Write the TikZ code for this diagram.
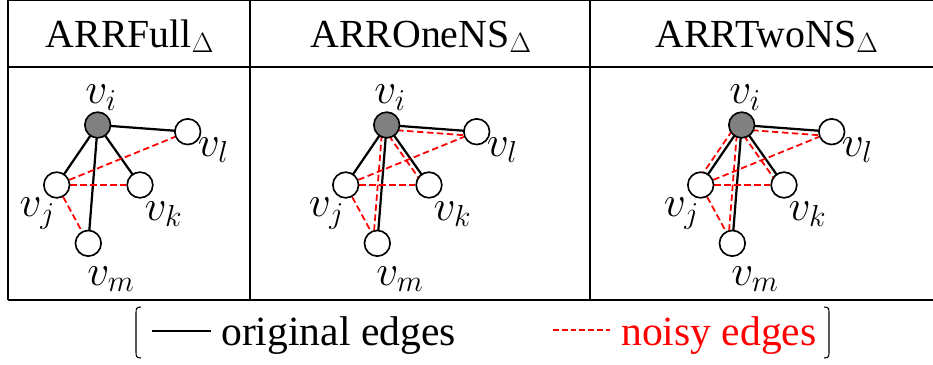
\RequirePackage{fix-cm}
\documentclass[tikz,border=0pt]{standalone}
\usepackage{fontspec}
\setmainfont{Liberation Serif}
\usetikzlibrary{backgrounds}

\begin{document}
\begin{tikzpicture}[x=0.03cm,y=-0.03cm,
  vtx/.style={circle,draw,line width=1.4pt,fill=white,minimum size=0.77cm,inner sep=0pt},
  hub/.style={vtx,fill=black!50},
  orig/.style={line width=1.9pt},
  noisy/.style={red,line width=1.5pt,dash pattern=on 5.5pt off 3pt},
  lbl/.style={font=\fontsize{37}{40}\selectfont,inner sep=0pt},
  txt/.style={font=\fontsize{35.5}{40}\selectfont,inner sep=0pt},
  hdr/.style={font=\fontsize{34}{40}\selectfont,inner sep=0pt,anchor=base},
  rule/.style={line width=0.9pt}]
 \useasboundingbox (0,0) rectangle (933,364);
 % table
 \draw[rule] (8,300) -- (8,0.5) -- (933,0.5);
 \draw[rule] (8,67) -- (933,67);
 \draw[rule] (250,0.5) -- (250,300);
 \draw[rule] (590,0.5) -- (590,300);
 \draw[line width=1.8pt] (8,300) -- (933,300);
 \node[hdr] (h1) at (130,47) {ARRFull$_\Delta$};
 \node[hdr] (h2) at (421,47) {ARROneNS$_\Delta$};
 \node[hdr] (h3) at (767,47) {ARRTwoNS$_\Delta$};
 % the three graphs
 \foreach \p/\dx in {1/0,2/289,3/644}{
  \begin{scope}[shift={(\dx,0)}]
   \node[hub] (vi\p) at (97.7,125) {};
   \node[vtx] (vl\p) at (187.7,131.7) {};
   \node[vtx] (vj\p) at (56.7,185) {};
   \node[vtx] (vk\p) at (140,185) {};
   \node[vtx] (vm\p) at (88.3,243.3) {};
  \end{scope}
  \node[lbl] (li\p) at ([shift={(3.3,-27.5)}]vi\p.center) {$v_i$};
  \node[lbl] (ll\p) at ([shift={(25.5,18.3)}]vl\p.center) {$v_l$};
  \node[lbl] (lj\p) at ([shift={(-19.4,28.5)}]vj\p.center) {$v_j$};
  \node[lbl] (lk\p) at ([shift={(23.3,29)}]vk\p.center) {$v_k$};
  \node[lbl] (lm\p) at ([shift={(22.5,35.9)}]vm\p.center) {$v_m$};
  \begin{scope}[on background layer]
   \draw[orig] (vi\p.center) -- (vj\p.center);
   \draw[orig] (vi\p.center) -- (vm\p.center);
   \draw[orig] (vi\p.center) -- (vk\p.center);
   \draw[orig] (vi\p.center) -- (vl\p.center);
   \draw[noisy] (vj\p) -- (vl\p);
   \draw[noisy] (vj\p) -- (vk\p);
   \draw[noisy] (vj\p) -- (vm\p);
   \ifnum\p>1
    \draw[noisy,transform canvas={shift={(0.5,4.5)}}] (vi\p.center) -- (vl\p.center);
    \draw[noisy,transform canvas={shift={(-3.6,2.5)}}] (vi\p.center) -- (vk\p.center);
    \draw[noisy,transform canvas={shift={(-4.2,0)}}] (vi\p.center) -- (vm\p.center);
   \fi
   \ifnum\p>2
    \draw[noisy,transform canvas={shift={(-3.9,-2.6)}}] (vi\p.center) -- (vj\p.center);
   \fi
  \end{scope}
 }
 % legend
 \draw[line width=0.9pt] (141,307) .. controls (136,307) and (136,309) .. (136,313)
  -- (136,352) .. controls (136,356) and (136,358) .. (141,358);
 \draw[line width=0.9pt] (824,307) .. controls (829,307) and (829,309) .. (829,313)
  -- (829,352) .. controls (829,356) and (829,358) .. (824,358);
 \coordinate (oa) at (152,331);
 \coordinate (ob) at (211,331);
 \draw[line width=1.8pt] (oa) -- (ob);
 \node[txt,anchor=base west] (ot) at (221,345) {original edges};
 \coordinate (na) at (553,330);
 \coordinate (nb) at (610,330);
 \draw[red,line width=1.1pt,dash pattern=on 5pt off 2.5pt] (na) -- (nb);
 \node[txt,red,anchor=base west] (nt) at (621,345) {noisy edges};
\end{tikzpicture}
\end{document}
